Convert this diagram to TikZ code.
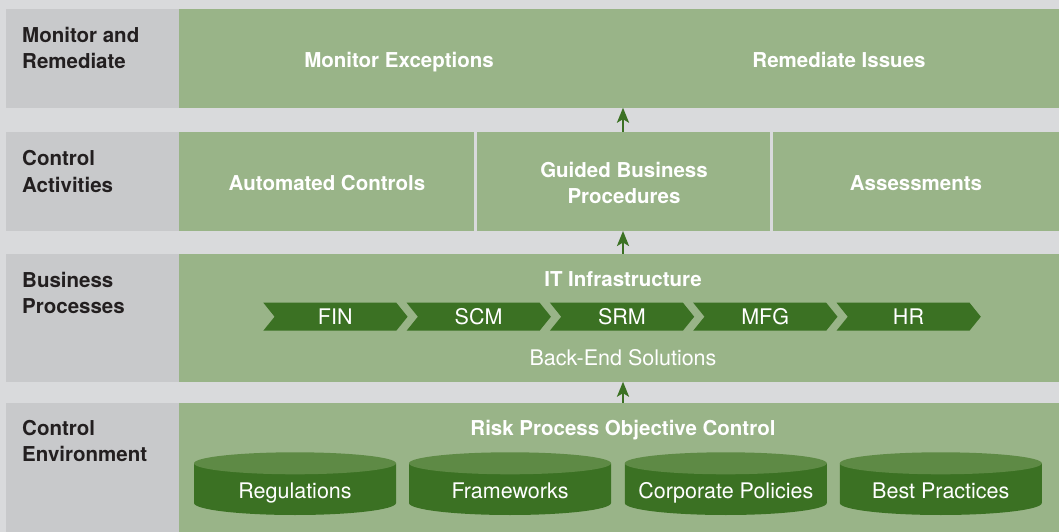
\documentclass[tikz,border=0pt]{standalone}
\usepackage{fontspec}
\setmainfont{TeX Gyre Heros}
\usetikzlibrary{arrows.meta}
\definecolor{bg}{HTML}{D9DADC}
\definecolor{lab}{HTML}{C8C9CB}
\definecolor{pan}{HTML}{99B488}
\definecolor{dkg}{HTML}{3B7123}
\definecolor{ltg}{HTML}{5E8A45}
\definecolor{ink}{HTML}{231F20}
\begin{document}
\begin{tikzpicture}[x=1bp,y=-1bp,
  box/.style={inner sep=0pt, outer sep=0pt, anchor=north west},
  labelbox/.style={box, fill=lab},
  panel/.style={box, fill=pan},
  rowtext/.style={font=\fontsize{20.5bp}{26.5bp}\selectfont\bfseries, text=ink, align=left, inner sep=0pt, anchor=base west},
  head/.style={font=\fontsize{20.5bp}{26bp}\selectfont\bfseries, text=white, inner sep=0pt, anchor=base},
  plain/.style={font=\fontsize{21.5bp}{26bp}\selectfont, text=white, inner sep=0pt, anchor=base},
  arr/.style={-{Stealth[length=15bp,width=12bp,inset=3.5bp]}, line width=2.5bp, draw=dkg}]
\fill[bg] (0,0) rectangle (1059,532);
\useasboundingbox (0,0) rectangle (1059,532);
% row 1
\node[labelbox, minimum width=173bp, minimum height=98.7bp] (l1) at (6,9) {};
\node[panel, minimum width=880bp, minimum height=98.7bp] (p1) at (179,9) {};
% row 2
\node[labelbox, minimum width=173bp, minimum height=99.3bp] (l2) at (6,131.7) {};
\node[panel, minimum width=295bp, minimum height=99.3bp] (c1) at (179,131.7) {};
\node[panel, minimum width=293bp, minimum height=99.3bp] (c2) at (477,131.7) {};
\node[panel, minimum width=286bp, minimum height=99.3bp] (c3) at (773,131.7) {};
% row 3
\node[labelbox, minimum width=173bp, minimum height=127.7bp] (l3) at (6,254) {};
\node[panel, minimum width=880bp, minimum height=127.7bp] (p3) at (179,254) {};
% row 4
\node[labelbox, minimum width=173bp, minimum height=129.3bp] (l4) at (6,402.7) {};
\node[panel, minimum width=880bp, minimum height=129.3bp] (p4) at (179,402.7) {};
% row labels (base = last line)
\node[rowtext] (t1) at (22,68.8) {Monitor and\\Remediate};
\node[rowtext] (t2) at (22,192.2) {Control\\Activities};
\node[rowtext] (t3) at (22,314) {Business\\Processes};
\node[rowtext] (t4) at (22,461.5) {Control\\Environment};
% row 1 texts
\node[head] (me) at (399,67.7) {Monitor Exceptions};
\node[head] (ri) at (839,67.7) {Remediate Issues};
% row 2 texts
\node[head] (ac) at (327,190.7) {Automated Controls};
\node[head, align=center] (gb) at (624,203.3) {Guided Business\\Procedures};
\node[head] (as) at (916,190.7) {Assessments};
% row 3
\node[head] (it) at (623,286.7) {IT Infrastructure};
\foreach \lab [count=\i from 0] in {FIN,SCM,SRM,MFG,HR}{
  \pgfmathsetmacro\xs{263.3+143.3*\i}
  \fill[dkg] (\xs,302.7) -- ++(133,0) -- ++(11.3,14) -- ++(-11.3,14) -- ++(-133,0) -- ++(11.3,-14) -- cycle;
  \node[plain] (ch\lab) at (\xs+72,325) {\lab};
}
\node[plain] (be) at (623,366) {Back-End Solutions};
% row 4
\node[head] (rp) at (623,435) {Risk Process Objective Control};
\foreach \cx/\nm/\txt in {295/reg/Regulations,510/fw/Frameworks,725.8/cp/Corporate Policies,940.8/bp/Best Practices}{
  \fill[dkg] (\cx-101,463.3) -- (\cx-101,503) arc[start angle=180,end angle=0,x radius=101,y radius=12] -- (\cx+101,463.3) -- cycle;
  \fill[ltg] (\cx,463.3) ellipse[x radius=101, y radius=11];
  \node[plain] (\nm) at (\cx,498.7) {\txt};
}
% arrows
\coordinate (ax) at (623,0);
\draw[arr] (p4.north -| ax) -- (p3.south -| ax);
\draw[arr] (p3.north -| ax) -- (c2.south -| ax);
\draw[arr] (c2.north -| ax) -- (p1.south -| ax);
\end{tikzpicture}
\end{document}
